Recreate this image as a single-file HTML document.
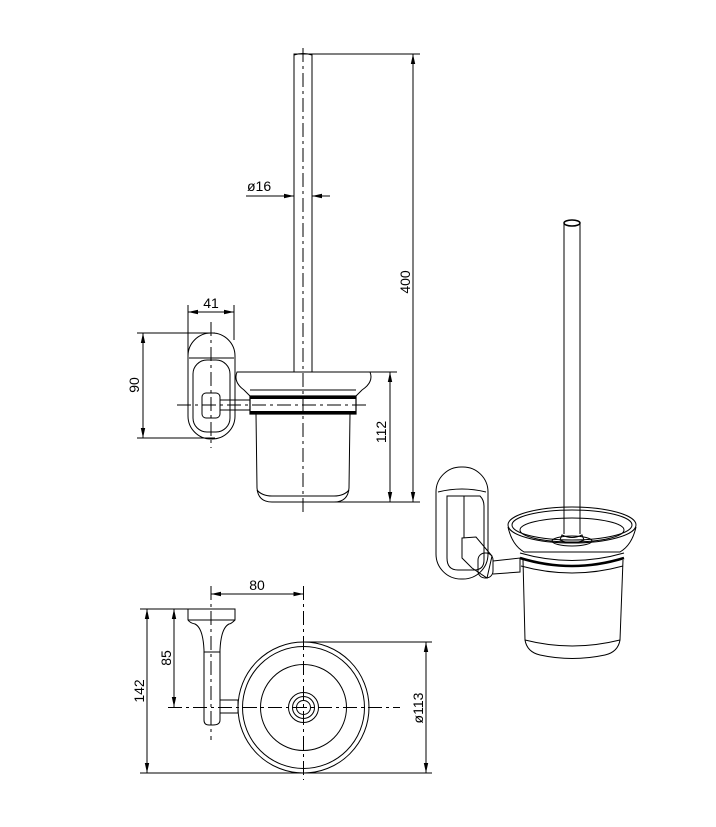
<!DOCTYPE html>
<html><head><style>html,body{margin:0;padding:0;background:#fff}svg{display:block}text{font-family:"Liberation Sans",sans-serif;font-size:14px;fill:#000}</style></head>
<body>
<svg width="716" height="827" viewBox="0 0 716 827" xmlns="http://www.w3.org/2000/svg" fill="none" stroke="#000" stroke-width="1">
<defs>
<marker id="a" viewBox="0 0 10 6" refX="10" refY="3" markerWidth="10" markerHeight="6" orient="auto-start-reverse" markerUnits="userSpaceOnUse"><path d="M0,0.8L10,3L0,5.2z" fill="#000" stroke="none"/></marker>
</defs>
<!-- FRONT VIEW -->
<g>
<rect x="294" y="54" width="18" height="318"/>
<path d="M294,55 Q303,52 312,55"/>
<line x1="303" y1="48" x2="303" y2="512" stroke-dasharray="14,4,3,4"/>
<path d="M237,372 L370,372 Q374,382 362,390 L356,396 L250,396 L244,390 Q233,382 237,372Z"/>
<line x1="250" y1="390" x2="356" y2="390"/>
<rect x="250" y="396" width="106" height="18" stroke-width="1.2"/>
<line x1="250" y1="397.5" x2="356" y2="397.5" stroke-width="3"/>
<line x1="250" y1="412.5" x2="356" y2="412.5" stroke-width="3"/>
<path d="M256,414 L257,488 Q258,502 272,502 L334,502 Q348,502 349,488 L350,414"/>
<path d="M257,490 Q262,496 272,496 L334,496 Q344,496 349,490"/>
<rect x="188" y="333" width="47" height="106" rx="23" ry="23"/>
<path d="M189,358 L234,358"/>
<rect x="193" y="360" width="37" height="72" rx="14"/>
<rect x="202" y="393" width="18" height="25" rx="4"/>
<rect x="220" y="400" width="30" height="10"/>
<line x1="177" y1="405" x2="370" y2="405" stroke-dasharray="14,4,3,4"/>
<line x1="211" y1="322" x2="211" y2="448" stroke-dasharray="14,4,3,4"/>
<line x1="312" y1="54" x2="420" y2="54"/>
<line x1="413" y1="54" x2="413" y2="502" marker-start="url(#a)" marker-end="url(#a)"/>
<line x1="300" y1="502" x2="420" y2="502"/>
<text transform="translate(410,282) rotate(-90)" stroke="none" text-anchor="middle">400</text>
<line x1="246" y1="196" x2="294" y2="196" marker-end="url(#a)"/>
<line x1="330" y1="196" x2="312" y2="196" marker-end="url(#a)"/>
<text x="247" y="191" stroke="none">ø16</text>
<line x1="188" y1="305" x2="188" y2="360"/>
<line x1="234" y1="305" x2="234" y2="340"/>
<line x1="188" y1="312" x2="234" y2="312" marker-start="url(#a)" marker-end="url(#a)"/>
<text x="211" y="308" stroke="none" text-anchor="middle">41</text>
<line x1="137" y1="333" x2="215" y2="333"/>
<line x1="137" y1="438" x2="215" y2="438"/>
<line x1="143" y1="333" x2="143" y2="438" marker-start="url(#a)" marker-end="url(#a)"/>
<text transform="translate(139,385) rotate(-90)" stroke="none" text-anchor="middle">90</text>
<line x1="356" y1="372" x2="397" y2="372"/>
<line x1="390" y1="372" x2="390" y2="502" marker-start="url(#a)" marker-end="url(#a)"/>
<text transform="translate(386,432) rotate(-90)" stroke="none" text-anchor="middle">112</text>
</g>
<!-- TOP VIEW -->
<g>
<path d="M188,609 L235,609 L235,620 Q231,624 229,624 Q221,628 220,650 L220,720 Q220,725 213,725 L209,725 Q204,725 204,720 L204,650 Q203,628 195,624 Q190,623 188,620Z"/>
<line x1="188" y1="620" x2="235" y2="620"/>
<line x1="204" y1="652" x2="220" y2="652"/>
<rect x="220" y="700" width="18" height="13"/>
<circle cx="303.5" cy="707.5" r="65.5"/>
<circle cx="303.5" cy="707.5" r="61"/>
<circle cx="303.5" cy="707.5" r="43"/>
<circle cx="303.5" cy="707.5" r="15"/>
<circle cx="303.5" cy="707.5" r="11"/>
<circle cx="303.5" cy="707.5" r="7"/>
<line x1="168" y1="707.5" x2="400" y2="707.5" stroke-dasharray="14,4,3,4"/>
<line x1="303.5" y1="586" x2="303.5" y2="780" stroke-dasharray="14,4,3,4"/>
<line x1="211" y1="586" x2="211" y2="740" stroke-dasharray="14,4,3,4"/>
<line x1="211" y1="594" x2="303.5" y2="594" marker-start="url(#a)" marker-end="url(#a)"/>
<text x="257" y="590" stroke="none" text-anchor="middle">80</text>
<line x1="140" y1="609" x2="188" y2="609"/>
<line x1="140" y1="773" x2="432" y2="773"/>
<line x1="303" y1="642" x2="432" y2="642"/>
<line x1="147" y1="609" x2="147" y2="773" marker-start="url(#a)" marker-end="url(#a)"/>
<text transform="translate(144,691) rotate(-90)" stroke="none" text-anchor="middle">142</text>
<line x1="174" y1="609" x2="174" y2="707" marker-start="url(#a)" marker-end="url(#a)"/>
<text transform="translate(171,658) rotate(-90)" stroke="none" text-anchor="middle">85</text>
<line x1="426" y1="642" x2="426" y2="773" marker-start="url(#a)" marker-end="url(#a)"/>
<text transform="translate(423,708) rotate(-90)" stroke="none" text-anchor="middle">ø113</text>
</g>
<!-- ISO VIEW -->
<g>
<line x1="564" y1="223" x2="564" y2="534"/>
<line x1="580" y1="223" x2="580" y2="534"/>
<ellipse cx="572" cy="223" rx="8" ry="3" stroke-width="1.5"/>
<path d="M562,535 Q572,540 582,535 L584,540 Q572,546 560,540Z"/>
<ellipse cx="572" cy="541" rx="20" ry="5"/>
<ellipse cx="572" cy="525" rx="64" ry="18"/>
<ellipse cx="572" cy="525" rx="60" ry="15"/>
<ellipse cx="572" cy="530" rx="52" ry="12"/>
<path d="M508,527 Q512,545 524,552 L620,552 Q632,545 636,527"/>
<path d="M520,553 Q572,568 624,553" />
<path d="M520,558 Q572,574 624,558" stroke-width="2.5"/>
<path d="M521,566 Q572,580 623,566"/>
<path d="M523,560 L525,640 Q527,652 540,655 Q572,662 605,655 Q618,652 620,640 L623,560"/>
<path d="M525,640 Q572,652 620,640"/>
<rect x="436" y="467" width="52" height="112" rx="25" ry="25"/>
<path d="M438,492 Q462,486 486,492"/>
<path d="M447,496 L480,496 Q484,500 484,506 L484,560 Q484,570 474,570 L458,570 Q447,570 447,558Z"/>
<line x1="464" y1="496" x2="464" y2="538"/>
<path d="M462,538 L476,537 L492,556 L487,578 L472,568 L462,558Z"/>
<rect x="478" y="553" width="15" height="25" rx="7"/>
<path d="M493,561 L520,558 L520,572 L493,574"/>
</g>
</svg>
</body></html>
